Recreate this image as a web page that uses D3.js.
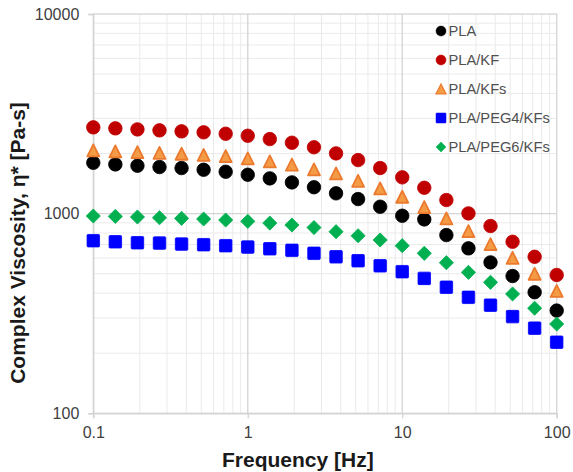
<!DOCTYPE html>
<html>
<head>
<meta charset="utf-8">
<script src="https://cdn.jsdelivr.net/npm/d3@7"></script>
<style>
  html, body { margin: 0; padding: 0; background: #fff; }
  svg { display: block; font-family: "Liberation Sans", Arial, sans-serif; }
</style>
</head>
<body>
<svg id="chart" width="573" height="472"></svg>
<script>
// Frequency sweep (Hz), seven points per decade
const frequency = [0.1, 0.1389, 0.1931, 0.2683, 0.3728, 0.518, 0.7197, 1,
  1.389, 1.931, 2.683, 3.728, 5.18, 7.197, 10, 13.89, 19.31, 26.83, 37.28, 51.8, 71.97, 100];

// Complex viscosity (Pa-s) for each sample
const pla = [1798, 1765, 1738, 1712, 1692, 1659, 1621, 1566, 1502, 1434, 1356,
  1264, 1183, 1083, 976, 936, 781, 670, 570, 487, 404, 327];
const plaKF = [2705, 2674, 2643, 2613, 2583, 2554, 2513, 2455, 2363, 2265, 2150,
  2004, 1855, 1692, 1520, 1348, 1170, 1003, 867, 723, 608, 493];
const plaKFs = [2075, 2051, 2034, 2016, 1995, 1970, 1943, 1892, 1827, 1762, 1667,
  1591, 1461, 1339, 1215, 1079, 947, 818, 704, 601, 500, 410];
const plaPeg4KFs = [732, 723, 715, 712, 704, 699, 691, 680, 667, 655, 633,
  608, 581, 548, 512, 474, 428, 381, 348, 305, 267, 227];
const plaPeg6KFs = [973, 969, 962, 954, 947, 940, 929, 915, 897, 877, 852,
  812, 775, 738, 691, 633, 568, 508, 453, 396, 336, 280];

const xTicks = [0.1, 1, 10, 100];
const yTicks = [100, 1000, 10000];
const xTickLabels = ["0.1", "1", "10", "100"];
const yTickLabels = ["100", "1000", "10000"];

const seriesNames = ["PLA", "PLA/KF", "PLA/KFs", "PLA/PEG4/KFs", "PLA/PEG6/KFs"];
const seriesValues = [pla, plaKF, plaKFs, plaPeg4KFs, plaPeg6KFs];

const series = seriesNames.map((name, i) => ({ name, values: seriesValues[i] }));

const styles = {
  "PLA":          { shape: "circle",   fill: "#000000", stroke: "#000000" },
  "PLA/KF":       { shape: "circle",   fill: "#C00000", stroke: "#C00000" },
  "PLA/KFs":      { shape: "triangle", fill: "#F39B45", stroke: "#EC7A2E" },
  "PLA/PEG4/KFs": { shape: "square",   fill: "#0000FF", stroke: "#0000FF" },
  "PLA/PEG6/KFs": { shape: "diamond",  fill: "#00B050", stroke: "#00B050" }
};

const svg = d3.select("#chart");
const plotLeft = 93.3, plotRight = 556.7, plotTop = 14, plotBottom = 413.3;

const x = d3.scaleLog().domain([0.1, 100]).range([plotLeft, plotRight]);
const y = d3.scaleLog().domain([100, 10000]).range([plotBottom, plotTop]);

// Minor and major gridlines
const minorX = [], minorY = [];
for (let d = 0.1; d < 100; d *= 10) for (let k = 2; k <= 9; k++) minorX.push(d * k);
for (let d = 100; d < 10000; d *= 10) for (let k = 2; k <= 9; k++) minorY.push(d * k);

const grid = svg.append("g");
grid.selectAll(".mx").data(minorX).join("line")
  .attr("x1", d => x(d)).attr("x2", d => x(d)).attr("y1", plotTop).attr("y2", plotBottom)
  .attr("stroke", "#eaeaea").attr("stroke-width", 1);
grid.selectAll(".my").data(minorY).join("line")
  .attr("x1", plotLeft).attr("x2", plotRight).attr("y1", d => y(d)).attr("y2", d => y(d))
  .attr("stroke", "#eaeaea").attr("stroke-width", 1);
grid.selectAll(".Mx").data(xTicks.slice(1, -1)).join("line")
  .attr("x1", d => x(d)).attr("x2", d => x(d)).attr("y1", plotTop).attr("y2", plotBottom)
  .attr("stroke", "#d4d4d4").attr("stroke-width", 1.3);
grid.selectAll(".My").data(yTicks.slice(1, -1)).join("line")
  .attr("x1", plotLeft).attr("x2", plotRight).attr("y1", d => y(d)).attr("y2", d => y(d))
  .attr("stroke", "#d4d4d4").attr("stroke-width", 1.3);

// Plot frame
svg.append("rect").attr("x", plotLeft).attr("y", plotTop)
  .attr("width", plotRight - plotLeft).attr("height", plotBottom - plotTop)
  .attr("fill", "none").attr("stroke", "#d4d4d4").attr("stroke-width", 1.3);

// Axes
const xAxis = d3.axisBottom(x).tickValues(xTicks)
  .tickFormat((d, i) => xTickLabels[i]).tickSize(5).tickPadding(8);
const yAxis = d3.axisLeft(y).tickValues(yTicks)
  .tickFormat((d, i) => yTickLabels[i]).tickSize(5).tickPadding(9);

const gx = svg.append("g").attr("transform", `translate(0,${plotBottom})`).call(xAxis);
const gy = svg.append("g").attr("transform", `translate(${plotLeft},0)`).call(yAxis);
[gx, gy].forEach(g => {
  g.select(".domain").attr("stroke", "#d4d4d4").attr("stroke-width", 1.3);
  g.selectAll(".tick line").attr("stroke", "#d4d4d4").attr("stroke-width", 1.3);
  g.selectAll(".tick text").attr("fill", "#404040")
    .style("font-size", "16px").style("font-family", "'Liberation Sans', Arial, sans-serif");
});

// Marker shapes
function drawMarker(sel, shape, size) {
  const h = size / 2;
  if (shape === "circle") {
    sel.append("circle").attr("r", h);
  } else if (shape === "square") {
    sel.append("rect").attr("x", -h).attr("y", -h).attr("width", size).attr("height", size)
      .attr("rx", size * 0.08);
  } else if (shape === "diamond") {
    const r = h * 1.05;
    sel.append("path").attr("d", `M0,${-r}L${r},0L0,${r}L${-r},0Z`);
  } else if (shape === "triangle") {
    sel.append("path").attr("d", `M0,${-h}L${h},${h}L${-h},${h}Z`);
  }
}

const sizes = { circle: 13.5, square: 12.5, diamond: 13.5, triangle: 12 };

const plot = svg.append("g");
series.forEach(s => {
  const st = styles[s.name];
  const pts = plot.append("g")
    .attr("fill", st.fill).attr("stroke", st.stroke)
    .attr("stroke-width", st.shape === "triangle" ? 1.8 : 0.8)
    .attr("stroke-linejoin", "round");
  s.values.forEach((v, i) => {
    const m = pts.append("g").attr("transform", `translate(${x(frequency[i])},${y(v)})`);
    drawMarker(m, st.shape, sizes[st.shape]);
  });
});

// Legend
const legend = svg.append("g");
series.forEach((s, i) => {
  const st = styles[s.name];
  const row = legend.append("g").attr("transform", `translate(441,${31 + i * 29})`);
  const mk = row.append("g").attr("fill", st.fill).attr("stroke", st.stroke)
    .attr("stroke-width", st.shape === "triangle" ? 1.2 : 0.5);
  drawMarker(mk, st.shape, st.shape === "diamond" ? 9.5 : 10);
  row.append("text").attr("x", 7.5).attr("y", 0).attr("dy", "0.36em")
    .attr("fill", "#505050").style("font-size", "14.7px").text(s.name);
});

// Axis titles
svg.append("text")
  .attr("x", 222).attr("y", 467)
  .attr("text-anchor", "start").attr("font-weight", "bold")
  .attr("fill", "#1a1a1a").style("font-size", "21px")
  .text("Frequency [Hz]");

svg.append("text")
  .attr("transform", `translate(25,243) rotate(-90)`)
  .attr("text-anchor", "middle").attr("font-weight", "bold")
  .attr("fill", "#1a1a1a").style("font-size", "21px")
  .text("Complex Viscosity, η* [Pa-s]");
</script>
</body>
</html>
